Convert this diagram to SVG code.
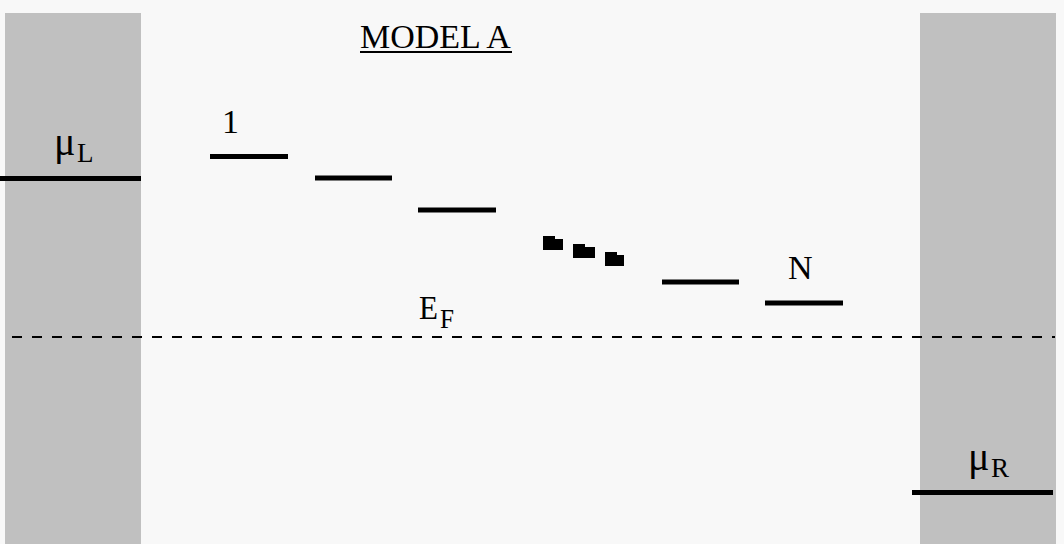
<svg xmlns="http://www.w3.org/2000/svg" width="1064" height="544" viewBox="0 0 1064 544">
  <style>
    .t { font-family: "Liberation Serif", "Times New Roman", serif; fill: #000; }
    .m { font-size: 34px; }
    .s { font-size: 27px; }
    .mu { font-size: 40px; }
    .lvl { stroke: #000; stroke-width: 5; fill: none; }
    .bar { fill: #c0c0c0; }
  </style>
  <rect x="0" y="0" width="1064" height="544" fill="#f8f8f8"/>

  <g id="left-lead">
    <rect class="bar" x="5" y="13" width="136" height="531"/>
    <line class="lvl" x1="0" y1="178.5" x2="141" y2="178.5"/>
    <text class="t mu" x="54" y="155">μ</text>
    <text class="t s" x="77" y="162">L</text>
  </g>

  <g id="right-lead">
    <rect class="bar" x="920" y="13" width="136" height="531"/>
    <line class="lvl" x1="912" y1="492.5" x2="1053" y2="492.5"/>
    <text class="t mu" x="968" y="470">μ</text>
    <text class="t s" x="991" y="477">R</text>
  </g>

  <g id="title">
    <text class="t m" x="360" y="48">MODEL A</text>
    <rect x="360" y="51" width="152" height="2" fill="#000"/>
  </g>

  <g id="fermi">
    <line x1="12" y1="337" x2="1055" y2="337" stroke="#000" stroke-width="2" stroke-dasharray="10 10"/>
    <text class="t m" x="419" y="319" textLength="19" lengthAdjust="spacingAndGlyphs">E</text>
    <text class="t s" x="440" y="328" textLength="14" lengthAdjust="spacingAndGlyphs">F</text>
  </g>

  <g id="level-1">
    <line class="lvl" x1="210" y1="156.5" x2="288" y2="156.5"/>
    <text class="t m" x="222" y="133">1</text>
  </g>
  <g id="level-2">
    <line class="lvl" x1="315" y1="178" x2="392" y2="178"/>
  </g>
  <g id="level-3">
    <line class="lvl" x1="418" y1="210" x2="496" y2="210"/>
  </g>
  <g id="ellipsis">
    <path d="M543 236h12v3h8v11h-20z" fill="#000"/>
    <path d="M573 244h12v3h10v11h-22z" fill="#000"/>
    <path d="M605 252h12v3h7v11h-19z" fill="#000"/>
  </g>
  <g id="level-4">
    <line class="lvl" x1="662" y1="282" x2="739" y2="282"/>
  </g>
  <g id="level-N">
    <line class="lvl" x1="765" y1="303" x2="843" y2="303"/>
    <text class="t m" x="788" y="279">N</text>
  </g>

  <g id="connectors"></g>
</svg>
